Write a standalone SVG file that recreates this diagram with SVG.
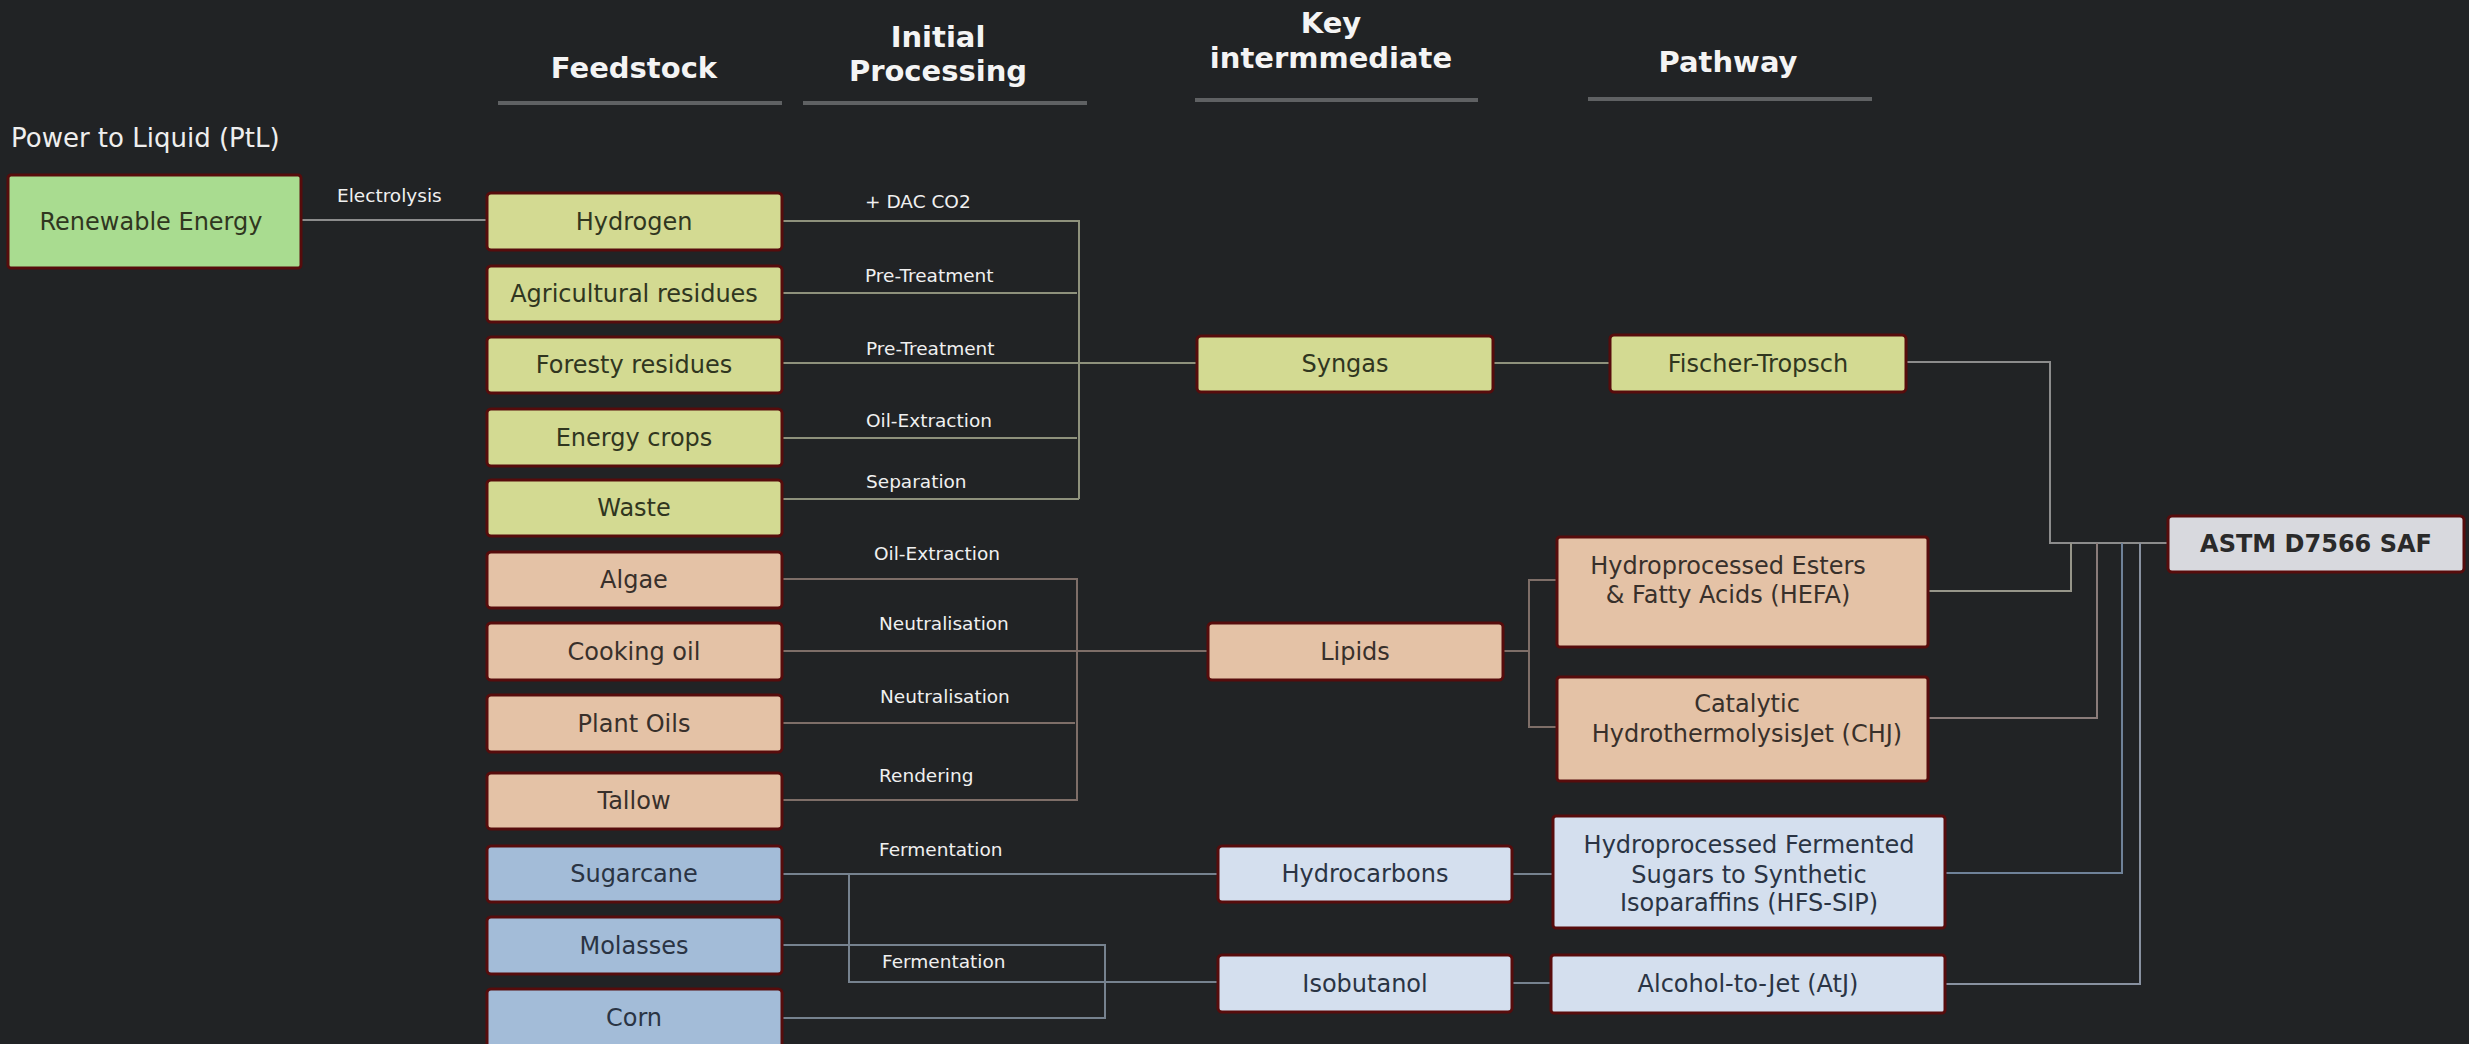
<svg xmlns="http://www.w3.org/2000/svg" width="2469" height="1044" viewBox="0 0 2469 1044">
<style>
  .bg{fill:#212325}
  .box{stroke:#560c0c;stroke-width:3}
  .g1{fill:#a9dc90}
  .g2{fill:#d3da92}
  .tan{fill:#e4c2a6}
  .blue{fill:#a3bcd8}
  .lblue{fill:#d4dfee}
  .grey{fill:#d8d9de}
  text{font-family:"DejaVu Sans","Verdana",sans-serif}
  .nt{font-size:24px;text-anchor:middle}
  .tg{fill:#30361f}
  .tt{fill:#38302b}
  .tb{fill:#2a3444}
  .hdr{font-size:29px;font-weight:bold;fill:#f4f4f4;text-anchor:middle}
  .ul{stroke:#5f6163;stroke-width:4}
  .lbl{font-size:18.5px;fill:#f0f0f0}
  .c{fill:none;stroke-width:2}
  .cs{stroke:#8e917c}
  .cl{stroke:#7e6e68}
  .cb{stroke:#76828f}
  .cg{stroke:#8c8c8c}
</style>
<rect class="bg" x="0" y="0" width="2469" height="1044"/>

<g id="headers">
  <text class="hdr" x="634" y="78" font-size="28">Feedstock</text>
  <line class="ul" x1="498" y1="103" x2="782" y2="103"/>
  <text class="hdr" x="938" y="47">Initial</text>
  <text class="hdr" x="938" y="81">Processing</text>
  <line class="ul" x1="803" y1="103" x2="1087" y2="103"/>
  <text class="hdr" x="1331" y="33">Key</text>
  <text class="hdr" x="1331" y="68">intermmediate</text>
  <line class="ul" x1="1195" y1="100" x2="1478" y2="100"/>
  <text class="hdr" x="1728" y="72">Pathway</text>
  <line class="ul" x1="1588" y1="99" x2="1872" y2="99"/>
  <text x="11" y="147" font-size="26" fill="#eeeeee">Power to Liquid (PtL)</text>
</g>

<g id="connectors">
  <path class="c cg" d="M301,220 H487"/>
  <path class="c cs" d="M782,221 H1079 V499"/>
  <path class="c cs" d="M782,293 H1077"/>
  <path class="c cs" d="M782,363 H1197"/>
  <path class="c cs" d="M782,438 H1077"/>
  <path class="c cs" d="M782,499 H1079"/>
  <path class="c cs" d="M1493,363 H1610"/>
  <path class="c cl" d="M782,579 H1077 V800 H782"/>
  <path class="c cl" d="M782,651 H1208"/>
  <path class="c cl" d="M782,723 H1075"/>
  <path class="c cl" d="M1503,651 H1529"/>
  <path class="c cl" d="M1557,580 H1529 V727 H1557"/>
  <path class="c cb" d="M782,874 H1218"/>
  <path class="c cb" d="M849,874 V982 H1218"/>
  <path class="c cb" d="M782,945 H1105 V1018 H782"/>
  <path class="c cb" d="M1512,874 H1553"/>
  <path class="c cb" d="M1512,983 H1551"/>
  <path class="c cg" d="M1906,362 H2050 V543 H2168"/>
  <path class="c" stroke="#97968a" d="M1928,591 H2071 V543"/>
  <path class="c" stroke="#8a7c7a" d="M1928,718 H2097 V543"/>
  <path class="c" stroke="#6f8299" d="M1945,873 H2122 V543"/>
  <path class="c" stroke="#8891a0" d="M1945,984 H2140 V543"/>
</g>

<g id="labels">
  <text class="lbl" x="337" y="202" font-size="18">Electrolysis</text>
  <text class="lbl" x="865" y="208">+ DAC CO2</text>
  <text class="lbl" x="865" y="282" font-size="17.3">Pre-Treatment</text>
  <text class="lbl" x="866" y="355" font-size="17.3">Pre-Treatment</text>
  <text class="lbl" x="866" y="427">Oil-Extraction</text>
  <text class="lbl" x="866" y="488">Separation</text>
  <text class="lbl" x="874" y="560">Oil-Extraction</text>
  <text class="lbl" x="879" y="630">Neutralisation</text>
  <text class="lbl" x="880" y="703">Neutralisation</text>
  <text class="lbl" x="879" y="782">Rendering</text>
  <text class="lbl" x="879" y="856">Fermentation</text>
  <text class="lbl" x="882" y="968">Fermentation</text>
</g>

<g id="n-renewable"><rect class="box g1" x="8" y="175" width="293" height="93" rx="3"/><text class="nt tg" x="151" y="230" font-size="26">Renewable Energy</text></g>

<g id="n-hydrogen"><rect class="box g2" x="487" y="193" width="295" height="57" rx="4"/><text class="nt tg" x="634" y="230">Hydrogen</text></g>
<g id="n-agri"><rect class="box g2" x="487" y="266" width="295" height="56" rx="4"/><text class="nt tg" x="634" y="302">Agricultural residues</text></g>
<g id="n-forest"><rect class="box g2" x="487" y="337" width="295" height="56" rx="4"/><text class="nt tg" x="634" y="373">Foresty residues</text></g>
<g id="n-energy"><rect class="box g2" x="487" y="409" width="295" height="57" rx="4"/><text class="nt tg" x="634" y="446">Energy crops</text></g>
<g id="n-waste"><rect class="box g2" x="487" y="480" width="295" height="56" rx="4"/><text class="nt tg" x="634" y="516">Waste</text></g>
<g id="n-algae"><rect class="box tan" x="487" y="552" width="295" height="56" rx="4"/><text class="nt tt" x="634" y="588">Algae</text></g>
<g id="n-cooking"><rect class="box tan" x="487" y="623" width="295" height="57" rx="4"/><text class="nt tt" x="634" y="660">Cooking oil</text></g>
<g id="n-plant"><rect class="box tan" x="487" y="695" width="295" height="57" rx="4"/><text class="nt tt" x="634" y="732">Plant Oils</text></g>
<g id="n-tallow"><rect class="box tan" x="487" y="773" width="295" height="56" rx="4"/><text class="nt tt" x="634" y="809">Tallow</text></g>
<g id="n-sugarcane"><rect class="box blue" x="487" y="846" width="295" height="56" rx="4"/><text class="nt tb" x="634" y="882">Sugarcane</text></g>
<g id="n-molasses"><rect class="box blue" x="487" y="917" width="295" height="57" rx="4"/><text class="nt tb" x="634" y="954">Molasses</text></g>
<g id="n-corn"><rect class="box blue" x="487" y="989" width="295" height="62" rx="4"/><text class="nt tb" x="634" y="1026">Corn</text></g>

<g id="n-syngas"><rect class="box g2" x="1197" y="336" width="296" height="56" rx="4"/><text class="nt tg" x="1345" y="372">Syngas</text></g>
<g id="n-lipids"><rect class="box tan" x="1208" y="623" width="295" height="57" rx="4"/><text class="nt tt" x="1355" y="660">Lipids</text></g>
<g id="n-hydrocarbons"><rect class="box lblue" x="1218" y="846" width="294" height="56" rx="4"/><text class="nt tb" x="1365" y="882">Hydrocarbons</text></g>
<g id="n-isobutanol"><rect class="box lblue" x="1218" y="955" width="294" height="57" rx="4"/><text class="nt tb" x="1365" y="992">Isobutanol</text></g>

<g id="n-ft"><rect class="box g2" x="1610" y="335" width="296" height="57" rx="4"/><text class="nt tg" x="1758" y="372">Fischer-Tropsch</text></g>
<g id="n-hefa"><rect class="box tan" x="1557" y="537" width="371" height="110" rx="3"/><text class="nt tt" x="1728" y="574">Hydroprocessed Esters</text><text class="nt tt" x="1728" y="603">&amp; Fatty Acids (HEFA)</text></g>
<g id="n-chj"><rect class="box tan" x="1557" y="677" width="371" height="104" rx="3"/><text class="nt tt" x="1747" y="712">Catalytic</text><text class="nt tt" x="1747" y="742">HydrothermolysisJet (CHJ)</text></g>
<g id="n-hfs"><rect class="box lblue" x="1553" y="816" width="392" height="112" rx="3"/><text class="nt tb" x="1749" y="853">Hydroprocessed Fermented</text><text class="nt tb" x="1749" y="883">Sugars to Synthetic</text><text class="nt tb" x="1749" y="911">Isoparaffins (HFS-SIP)</text></g>
<g id="n-atj"><rect class="box lblue" x="1551" y="955" width="394" height="58" rx="3"/><text class="nt tb" x="1748" y="992">Alcohol-to-Jet (AtJ)</text></g>

<g id="n-astm"><rect class="box grey" x="2168" y="516" width="296" height="56" rx="4"/><text x="2316" y="552" font-size="24" font-weight="bold" fill="#2a2a2a" text-anchor="middle">ASTM D7566 SAF</text></g>
</svg>
